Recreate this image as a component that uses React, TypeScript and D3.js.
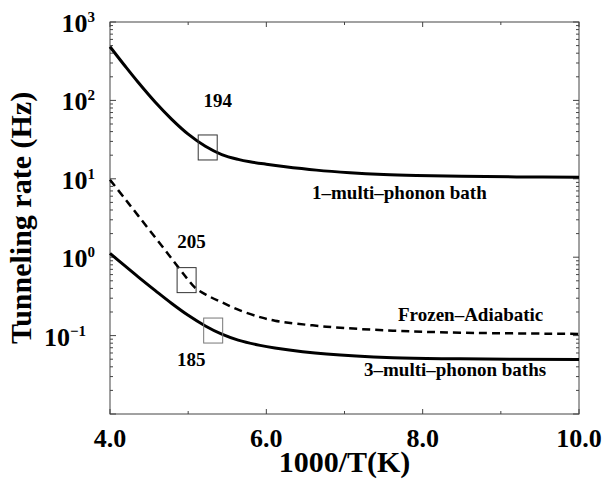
import React from "react";
import * as d3 from "d3";

// 1000/T sample positions and tunneling rates (Hz) for each model
const invTOneBath = [4.0, 4.2, 4.36, 4.58, 4.79, 5.0, 5.22, 5.43, 5.64, 5.79, 6.0, 6.22, 6.64, 7.07, 7.5, 7.92, 8.5, 9.2, 10.0];
const rateOneBath = [484, 268.5, 170.2, 94.6, 57.3, 37.1, 26.0, 20.4, 17.7, 16.5, 15.35, 14.35, 12.9, 11.97, 11.38, 11.04, 10.74, 10.57, 10.5];

const invTFrozen = [4.0, 4.18, 4.36, 4.58, 4.79, 4.985, 5.09, 5.25, 5.43, 5.64, 5.92, 6.11, 6.77, 7.62, 8.48, 10.0];
const rateFrozen = [9.7, 5.75, 3.39, 1.78, 0.955, 0.537, 0.407, 0.324, 0.266, 0.214, 0.172, 0.155, 0.13, 0.1156, 0.109, 0.105];

const invTThreeBath = [4.0, 4.18, 4.36, 4.58, 4.79, 5.0, 5.22, 5.43, 5.64, 5.92, 6.11, 6.77, 7.62, 8.48, 10.0];
const rateThreeBath = [1.12, 0.791, 0.562, 0.375, 0.257, 0.1816, 0.1327, 0.1042, 0.0875, 0.075, 0.0697, 0.0581, 0.0521, 0.0506, 0.0495];

// Marked temperatures (K) with the point on the curve they refer to
const markerLabels = ["194", "205", "185"];
const markerInvT = [5.25, 4.98, 5.32];
const markerRate = [25.1, 0.51, 0.116];

const xTickValues = [4, 6, 8, 10];
const xTickLabels = ["4.0", "6.0", "8.0", "10.0"];
const yExponents = [3, 2, 1, 0, -1];

const W = 603;
const H = 487;
const M = { left: 110, right: 579, top: 22, bottom: 414 };
const FONT = "'Liberation Serif', 'Times New Roman', serif";

export default function App() {
  const x = d3.scaleLinear().domain([4, 10]).range([M.left, M.right]);
  const y = d3.scaleLog().domain([0.01, 1000]).range([M.bottom, M.top]);

  const line = d3
    .line<[number, number]>()
    .x((d) => x(d[0]))
    .y((d) => y(d[1]))
    .curve(d3.curveCatmullRom.alpha(0.5));

  const zip = (a: number[], b: number[]) => a.map((v, i) => [v, b[i]] as [number, number]);

  // minor log ticks 2..9 in each decade
  const minorY: number[] = [];
  for (let e = -2; e < 3; e++) for (let k = 2; k <= 9; k++) minorY.push(k * Math.pow(10, e));
  const majorY = [-2, -1, 0, 1, 2, 3].map((e) => Math.pow(10, e));
  const minorX = [5, 7, 9];

  const axisColor = "#444";
  const boxW = 19;
  const boxH = 25;
  const labelOffsets = [
    [10, -40],
    [5, -32],
    [-22, 35],
  ];
  const boxColors = ["#333", "#333", "#777"];

  return (
    <svg width={W} height={H} style={{ position: "absolute", left: 0, top: 0, background: "#fff" }} fontFamily={FONT}>
      {/* frame */}
      <rect x={M.left} y={M.top} width={M.right - M.left} height={M.bottom - M.top} fill="none" stroke={axisColor} strokeWidth={1} />

      {/* y ticks, both sides */}
      {majorY.map((v, i) => (
        <g key={"my" + i}>
          <line x1={M.left} x2={M.left + 6} y1={y(v)} y2={y(v)} stroke={axisColor} />
          <line x1={M.right} x2={M.right - 6} y1={y(v)} y2={y(v)} stroke={axisColor} />
        </g>
      ))}
      {minorY.map((v, i) => (
        <g key={"ny" + i}>
          <line x1={M.left} x2={M.left + 3} y1={y(v)} y2={y(v)} stroke={axisColor} />
          <line x1={M.right} x2={M.right - 3} y1={y(v)} y2={y(v)} stroke={axisColor} />
        </g>
      ))}

      {/* x ticks, top and bottom */}
      {xTickValues.map((v, i) => (
        <g key={"mx" + i}>
          <line x1={x(v)} x2={x(v)} y1={M.bottom} y2={M.bottom - 5} stroke={axisColor} />
          <line x1={x(v)} x2={x(v)} y1={M.top} y2={M.top + 5} stroke={axisColor} />
        </g>
      ))}
      {minorX.map((v, i) => (
        <g key={"nx" + i}>
          <line x1={x(v)} x2={x(v)} y1={M.bottom} y2={M.bottom - 3} stroke={axisColor} />
          <line x1={x(v)} x2={x(v)} y1={M.top} y2={M.top + 3} stroke={axisColor} />
        </g>
      ))}

      {/* x tick labels */}
      {xTickValues.map((v, i) => (
        <text key={"xl" + i} x={x(v)} y={447} textAnchor="middle" fontSize={26} fontWeight="bold" fill="#000">
          {xTickLabels[i]}
        </text>
      ))}

      {/* y tick labels */}
      {yExponents.map((e) => (
        <text key={"yl" + e} x={e < 0 ? 86 : 95} y={y(Math.pow(10, e)) + 10} textAnchor="end" fontSize={26} fontWeight="bold" fill="#000">
          10
          <tspan dy={-10} fontSize={15}>
            {e < 0 ? "\u2212" + Math.abs(e) : String(e)}
          </tspan>
        </text>
      ))}

      {/* axis titles */}
      <text x={(M.left + M.right) / 2} y={472} textAnchor="middle" fontSize={30} fontWeight="bold" fill="#000">
        1000/T(K)
      </text>
      <text
        transform={`translate(31, ${(M.top + M.bottom) / 2}) rotate(-90)`}
        textAnchor="middle"
        fontSize={30}
        fontWeight="bold"
        fill="#000"
      >
        Tunneling rate (Hz)
      </text>

      {/* curves */}
      <path d={line(zip(invTOneBath, rateOneBath)) ?? ""} fill="none" stroke="#000" strokeWidth={3} />
      <path d={line(zip(invTFrozen, rateFrozen)) ?? ""} fill="none" stroke="#000" strokeWidth={2.5} strokeDasharray="8,5" />
      <path d={line(zip(invTThreeBath, rateThreeBath)) ?? ""} fill="none" stroke="#000" strokeWidth={3} />

      {/* temperature markers */}
      {markerLabels.map((lab, i) => {
        const cx = x(markerInvT[i]);
        const cy = y(markerRate[i]);
        return (
          <g key={"mk" + i}>
            <rect x={cx - boxW / 2} y={cy - boxH / 2} width={boxW} height={boxH} fill="none" stroke={boxColors[i]} strokeWidth={1} />
            <text x={cx + labelOffsets[i][0]} y={cy + labelOffsets[i][1]} textAnchor="middle" fontSize={19} fontWeight="bold" fill="#000">
              {lab}
            </text>
          </g>
        );
      })}

      {/* curve labels */}
      <text x={312} y={199} fontSize={19} fontWeight="bold" fill="#000">1–multi–phonon bath</text>
      <text x={398} y={321} fontSize={19} fontWeight="bold" fill="#000">Frozen–Adiabatic</text>
      <text x={364} y={376} fontSize={19} fontWeight="bold" fill="#000">3–multi–phonon baths</text>
    </svg>
  );
}
